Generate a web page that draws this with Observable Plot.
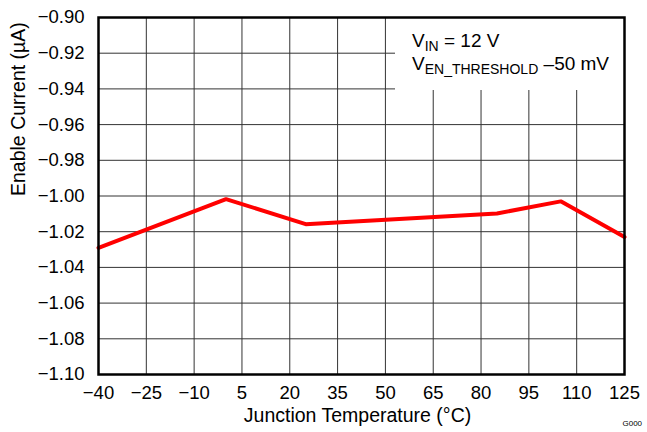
<!DOCTYPE html>
<html>
<head>
<meta charset="utf-8">
<script src="https://cdn.jsdelivr.net/npm/d3@7"></script>
<script src="https://cdn.jsdelivr.net/npm/@observablehq/plot@0.6"></script>
<style>
  html, body { margin: 0; padding: 0; background: #fff; overflow: hidden; }
  #chart svg { display: block; overflow: hidden; }
</style>
</head>
<body>
<div id="chart"></div>
<script>
// Enable pin current vs. junction temperature
const temperature = [-40, 0, 25, 85, 105, 125];           // °C
const enableCurrent = [-1.029, -1.0017, -1.0158, -1.0098, -1.003, -1.023]; // µA

const xTicks = [-40, -25, -10, 5, 20, 35, 50, 65, 80, 95, 110, 125];
const yTicks = [-0.90, -0.92, -0.94, -0.96, -0.98, -1.00, -1.02, -1.04, -1.06, -1.08, -1.10];

const xTitle = "Junction Temperature (°C)";
const yTitle = "Enable Current (µA)";
const figureId = "G000";

// Test conditions: [main text, subscript, trailing text]
const conditions = [
  ["V", "IN", " = 12 V"],
  ["V", "EN_THRESHOLD", " \u201350 mV"]
];

const rows = temperature.map((t, i) => ({t, i: enableCurrent[i]}));

const minus = s => String(s).replace("-", "\u2212");
const font = "'Liberation Sans', Arial, Helvetica, sans-serif";

// Conditions box in the upper-right corner of the frame
function conditionsBox(index, scales, values, dimensions) {
  const right = scales.x(125);
  const top = scales.y(-0.90);
  const w = 229, h = 73;
  const g = d3.create("svg:g");
  g.append("rect")
    .attr("x", right - w).attr("y", top)
    .attr("width", w).attr("height", h)
    .attr("fill", "white");
  conditions.forEach(([main, sub, tail], k) => {
    const t = g.append("text")
      .attr("x", right - w + 17)
      .attr("y", top + 30 + k * 22.6)
      .attr("text-anchor", "start")
      .attr("font-family", font)
      .attr("font-size", 19)
      .attr("fill", "black");
    t.append("tspan").text(main);
    t.append("tspan").attr("font-size", 14).attr("dy", 4).text(sub);
    t.append("tspan").attr("dy", -4).text(tail);
  });
  return g.node();
}

const chart = Plot.plot({
  width: 647,
  height: 432,
  marginLeft: 98,
  marginRight: 23,
  marginTop: 17,
  marginBottom: 58,
  style: {fontFamily: font, fontSize: "18.5px", color: "black", background: "white"},
  x: {domain: [-40, 125]},
  y: {domain: [-1.10, -0.90]},
  marks: [
    Plot.gridX(xTicks, {stroke: "#333", strokeOpacity: 1, strokeWidth: 1}),
    Plot.gridY(yTicks, {stroke: "#333", strokeOpacity: 1, strokeWidth: 1}),
    conditionsBox,
    Plot.line(rows, {x: "t", y: "i", stroke: "#ff0000", strokeWidth: 4, strokeLinejoin: "miter"}),
    Plot.axisX({ticks: xTicks, tickSize: 0, tickPadding: 11, label: null,
                tickFormat: d => minus(d), fontSize: 18.5}),
    Plot.axisY({ticks: yTicks, tickSize: 0, tickPadding: 14, label: null,
                tickFormat: d => minus(d.toFixed(2)), fontSize: 18.5}),
    Plot.text([xTitle], {frameAnchor: "bottom", dx: -4, dy: 47, fontSize: 19.5, fill: "black"}),
    Plot.text([yTitle], {frameAnchor: "left", dx: -80, rotate: -90, fontSize: 19.5, fill: "black"}),
    Plot.text([figureId], {frameAnchor: "bottom-right", dx: -2, dy: 51.5, textAnchor: "start", fontSize: 8, fill: "black"}),
    Plot.frame({stroke: "black", strokeWidth: 2.5})
  ]
});

document.getElementById("chart").append(chart);
</script>
</body>
</html>
